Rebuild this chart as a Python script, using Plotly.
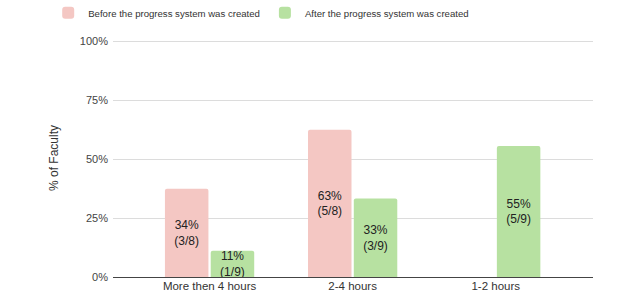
import plotly.graph_objects as go

categories = ["More then 4 hours", "2-4 hours", "1-2 hours"]
before_values = [0.375, 0.625, None]
after_values = [0.111, 0.333, 0.556]
before_labels = ["34%<br>(3/8)", "63%<br>(5/8)", ""]
after_labels = ["11%<br>(1/9)", "33%<br>(3/9)", "55%<br>(5/9)"]
series_names = ["Before the progress system was created", "After the progress system was created"]
tick_vals = [0, 0.25, 0.5, 0.75, 1.0]
tick_text = ["0%", "25%", "50%", "75%", "100%"]

FONT = "Liberation Sans, Arial, sans-serif"

fig = go.Figure()
fig.add_trace(go.Bar(
    x=categories, y=before_values, name=series_names[0],
    marker=dict(color="#f4c7c3", line=dict(width=0)),
    text=before_labels, textposition="inside", insidetextanchor="middle",
    constraintext="none",
    textfont=dict(family=FONT, size=12, color="#222222"),
    textangle=0, hoverinfo="skip",
))
fig.add_trace(go.Bar(
    x=categories, y=after_values, name=series_names[1],
    marker=dict(color="#b7e1a1", line=dict(width=0)),
    text=after_labels, textposition="inside", insidetextanchor="middle",
    constraintext="none",
    textfont=dict(family=FONT, size=12, color="#222222"),
    textangle=0, hoverinfo="skip",
))

fig.update_layout(
    width=640, height=301,
    margin=dict(l=113, r=47, t=39, b=24, autoexpand=False),
    paper_bgcolor="white", plot_bgcolor="white",
    barmode="group", bargap=0.36, bargroupgap=0.05,
    barcornerradius=2,
    font=dict(family=FONT, size=11, color="#444444"),
    legend=dict(
        orientation="h", x=-0.135, xanchor="left", y=1.11, yanchor="middle",
        font=dict(family=FONT, size=9.6, color="#333333"),
        bgcolor="rgba(0,0,0,0)", itemwidth=30, traceorder="normal",
    ),
    showlegend=True,
)
fig.update_xaxes(
    range=[-0.675, 2.68], showgrid=False, showline=False, ticks="",
    tickfont=dict(family=FONT, size=11.5, color="#333333"),
)
fig.update_yaxes(
    range=[0, 1.01], tickvals=tick_vals, ticktext=tick_text,
    showgrid=True, gridcolor="#dcdcdc", gridwidth=1,
    zeroline=True, zerolinecolor="#444444", zerolinewidth=1,
    ticks="", ticklen=0, ticklabelstandoff=4,
    tickfont=dict(family=FONT, size=11, color="#444444"),
    title=dict(text="% of Faculty", font=dict(family=FONT, size=12, color="#333333"), standoff=18),
)

fig.write_html("out.html", config={"displayModeBar": False},
               post_script="document.body.style.margin='0px';")
